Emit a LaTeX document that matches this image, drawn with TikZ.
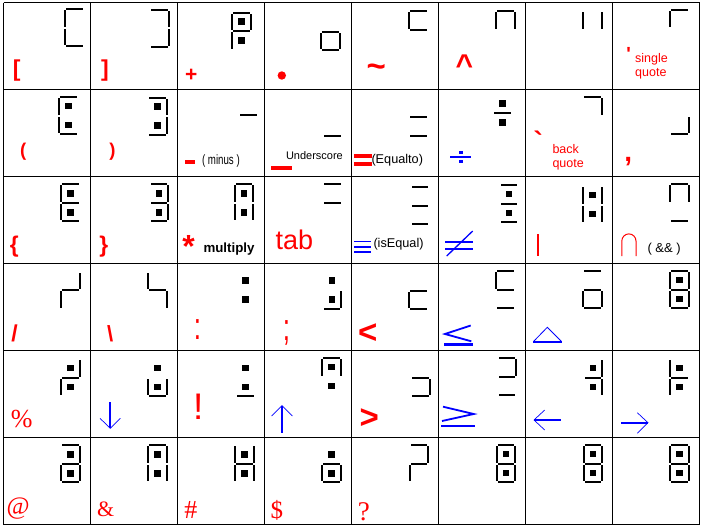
\documentclass[tikz,border=0pt]{standalone}
\usepackage{fontspec}
\setmainfont{Liberation Sans}
\newfontfamily\symfont{Liberation Sans}
\newfontfamily\serifsym{Liberation Serif}
\newcommand\myfs[1]{\fontsize{#1}{#1}\selectfont}
\pgfkeys{/seg/.is family, /seg/.cd,
  a/.code={\fill[black] (2,0) rectangle (18.5,2);},
  b/.code={\fill[black] (18.5,2) rectangle (20.5,18.5);},
  c/.code={\fill[black] (18.5,20.5) rectangle (20.5,37);},
  d/.code={\fill[black] (2,37) rectangle (18.5,39);},
  e/.code={\fill[black] (0,20.5) rectangle (2,37);},
  f/.code={\fill[black] (0,2) rectangle (2,18.5);},
  g/.code={\fill[black] (2,18.5) rectangle (18.5,20.5);},
  p/.code={\fill[black] (7,6.75) rectangle (13.5,13.25);},
  q/.code={\fill[black] (7,25.75) rectangle (13.5,32.25);},
  all/.code={\pgfkeys{/seg/.cd,a,b,c,d,e,f,g,p,q}}
}
\newcommand\glyph[3]{\begin{scope}[shift={(#1,#2)}]\pgfkeys{/seg/.cd,#3}\end{scope}}
\begin{document}
\begin{tikzpicture}[x=1pt,y=-1pt,
  sym/.style={inner sep=0pt, outer sep=0pt, anchor=center, text=red},
  lbl/.style={inner sep=0pt, outer sep=0pt, anchor=west},
  gridl/.style={line width=1.8pt, black},
  thinhead/.style={line width=0.7pt, blue}]
\useasboundingbox (0,0) rectangle (706,530);
\fill[white] (0,0) rectangle (706,530);
% grid
\foreach \i in {0,...,8} {\draw[gridl] (3.5+87*\i,2.5) -- (3.5+87*\i,524.5);}
\foreach \j in {0,...,6} {\draw[gridl] (3.5,2.5+87*\j) -- (699.5,2.5+87*\j);}
% ---- segment glyphs ----
% row 1
\glyph{64.3}{8}{a,f,e,d}
\glyph{149.2}{8.5}{a,b,c,d}
\glyph{231}{11.5}{a,f,b,g,e,p,q}
\glyph{320.3}{12}{g,e,c,d}
\glyph{408.3}{10}{a,f,g}
\glyph{495.3}{10}{a,f,b}
\glyph{582}{10}{f,b}
\glyph{669}{8.5}{a,f}
% row 2
\glyph{58.3}{96}{a,f,e,d,p,q}
\glyph{147.2}{96.5}{a,b,c,d,p,q}
\glyph{238}{95.8}{g}
\glyph{322}{97.7}{d}
\glyph{408}{97.6}{g,d}
\glyph{492}{93.5}{g,p,q}
\glyph{582}{96}{a,b}
\glyph{669.2}{96}{c,d}
% row 3
\glyph{60}{183.3}{a,f,g,e,d,p,q}
\glyph{148.7}{183.3}{a,b,g,c,d,p,q}
\glyph{233.7}{183.3}{a,f,b,e,c,p,q}
\glyph{322}{183.3}{a,g}
\glyph{409.5}{186.3}{a,g,d}
\glyph{498.5}{184}{a,g,d,p,q}
\glyph{582}{185}{f,b,e,c,p,q}
\glyph{669}{183.3}{a,f,b,d}
% row 4
\glyph{60}{270.5}{b,g,e}
\glyph{147}{270.5}{f,g,c}
\glyph{235}{270.5}{p,q}
\glyph{321.5}{270.5}{p,q,c,d}
\glyph{408.3}{271}{g,e,d}
\glyph{495.3}{270}{a,f,g,d}
\glyph{582.3}{270}{a,g,e,c,d}
\glyph{669}{270}{all}
% row 5
\glyph{60}{358}{b,g,e,p,q}
\glyph{147.3}{358}{p,q,e,c,d}
\glyph{235}{358}{p,q,d}
\glyph{321}{357}{a,f,b,p,q}
\glyph{410}{358}{g,c,d}
\glyph{496.5}{357}{a,b,g,d}
\glyph{582.5}{358}{b,g,c,p,q}
\glyph{669}{358}{f,g,e,p,q}
% row 6
\glyph{60.3}{444.3}{a,b,g,e,c,d,p,q}
\glyph{147.3}{444.3}{a,f,b,e,c,p,q}
\glyph{234}{444.3}{f,b,g,e,c,p,q}
\glyph{321}{444.3}{p,q,g,e,c,d}
\glyph{408.5}{444}{a,b,g,e}
\glyph{495.5}{444}{all}
\glyph{582.5}{444}{all}
\glyph{669}{444}{all}
% ---- row 1 symbols ----
\node[sym, font=\symfont\bfseries\myfs{23}] (lbrack) at (16.7,70.8) {[};
\node[sym, font=\symfont\bfseries\myfs{23}] (rbrack) at (105,70.8) {]};
\node[sym, font=\symfont\bfseries\myfs{21}] (plus) at (191.2,75.8) {+};
\fill[red] (281.8,75.5) circle (4.2);
\node[sym, font=\symfont\bfseries\myfs{33}] (tilde) at (376.3,70.8) {\textasciitilde};
\node[sym, font=\symfont\bfseries\myfs{30}] (caret) at (464.5,65) {\textasciicircum};
\node[sym, font=\symfont\bfseries\myfs{19}] (squote) at (628.5,54.2) {'};
\node[lbl, text=red, font=\myfs{12.5}] (single) at (635.2,59.2) {single};
\node[lbl, text=red, font=\myfs{12.5}] (quoteA) at (635.2,74.2) {quote};
% ---- row 2 ----
\node[sym, font=\symfont\bfseries\myfs{18.5}] (lparen) at (23.3,152) {(};
\node[sym, font=\symfont\bfseries\myfs{18.5}] (rparen) at (112.5,152) {)};
\fill[red] (185,160.3) rectangle (195,164.3);
\node[lbl, font=\myfs{13.5}] (minus) at (202,160.8) {\scalebox{0.72}[1]{( minus )}};
\fill[red] (271,165.7) rectangle (291.7,169.7);
\node[lbl, font=\myfs{11}] (under) at (286,155.2) {Underscore};
\fill[red] (354,154.3) rectangle (371.7,157.7);
\fill[red] (354,162.3) rectangle (371.7,165.7);
\node[lbl, font=\myfs{12.7}] (equalto) at (371.5,160) {(Equalto)};
\fill[blue] (450,155.7) rectangle (471,157.7);
\fill[blue] (459,151) rectangle (463,153.7);
\fill[blue] (459,160) rectangle (463,163);
\node[sym, font=\symfont\bfseries\myfs{28}] (bquote) at (538.3,141.2) {`};
\node[lbl, text=red, font=\myfs{12.5}] (back) at (552.5,148.7) {back};
\node[lbl, text=red, font=\myfs{12.5}] (quoteB) at (552.5,164.7) {quote};
\node[sym, font=\symfont\bfseries\myfs{28}] (comma) at (628.3,161.2) {,};
% ---- row 3 ----
\node[sym, font=\symfont\bfseries\myfs{22.7}] (lbrace) at (14.2,246.7) {\{};
\node[sym, font=\symfont\bfseries\myfs{22.7}] (rbrace) at (103.8,246.7) {\}};
\node[sym, font=\symfont\bfseries\myfs{32}] (star) at (188.7,246.5) {*};
\node[lbl, font=\bfseries\myfs{13.3}] (mult) at (203.5,248.8) {multiply};
\node[lbl, text=red, font=\myfs{27}] (tab) at (275.5,240.2) {tab};
\fill[blue] (354,240.7) rectangle (370.7,242.3);
\fill[blue] (354,246) rectangle (370.7,247.7);
\fill[blue] (354,251.3) rectangle (370.7,253);
\node[lbl, font=\myfs{12.7}] (iseq) at (373.5,244.2) {(isEqual)};
\fill[blue] (445,241) rectangle (472.7,242.7);
\fill[blue] (445,248.3) rectangle (472.7,250);
\draw[blue, line width=1.3pt] (446.7,256) -- (472.7,231);
\fill[red] (537,234) rectangle (539,256);
\draw[red, line width=1pt] (621.8,256) -- (621.8,241) arc[start angle=180, end angle=360, radius=7.1] -- (636,256);
\node[lbl, font=\myfs{13}] (andand) at (647.5,248.8) {( \&\& )};
% ---- row 4 ----
\node[sym, font=\symfont\bfseries\myfs{23}] (slash) at (14.5,333.8) {/};
\node[sym, font=\symfont\bfseries\myfs{22}] (bslash) at (110.3,333.3) {\textbackslash};
\node[sym, font=\symfont\myfs{26}] (colon) at (197.5,330) {\scalebox{1}[1.45]{:}};
\node[sym, font=\symfont\myfs{26}] (semi) at (286.5,333) {\scalebox{1}[1.45]{;}};
\node[sym, font=\symfont\bfseries\myfs{33}] (less) at (367.8,333.3) {<};
\draw[blue, line width=1.8pt] (470.7,325.5) -- (445,334) -- (471.3,341.3);
\fill[blue] (444,343.3) rectangle (473,345.7);
\draw[blue, line width=0.8pt] (533.5,341.5) -- (547.3,327.3) -- (561.5,341.5);
\fill[blue] (533,340.7) rectangle (562,342.7);
% ---- row 5 ----
\node[sym, font=\serifsym\myfs{26}] (percent) at (21.7,419.2) {\%};
\fill[blue] (109.3,401.7) rectangle (111.1,428.3);
\draw[thinhead] (100,418.3) -- (110.2,428.3) -- (120.4,418.3);
\node[sym, font=\symfont\myfs{37}] (excl) at (198.3,406.5) {!};
\fill[blue] (281,405.7) rectangle (283,432.7);
\draw[thinhead] (271.7,416) -- (282,405.7) -- (292.3,416);
\node[sym, font=\symfont\bfseries\myfs{33}] (greater) at (369.2,418.3) {>};
\draw[blue, line width=1.8pt] (443,406.7) -- (473.7,414) -- (442,421);
\fill[blue] (441.3,425) rectangle (474.7,427);
\fill[blue] (534,419) rectangle (561.3,421);
\draw[thinhead] (544.7,410) -- (534,420) -- (544.7,430);
\fill[blue] (620.7,421.7) rectangle (648,423.7);
\draw[thinhead] (637.3,412.7) -- (648,422.7) -- (637.3,433.3);
% ---- row 6 ----
\node[sym, font=\serifsym\myfs{25}] (at) at (18.2,508.8) {@};
\node[sym, font=\serifsym\myfs{22}] (amp) at (105.8,509.7) {\&};
\node[sym, font=\serifsym\myfs{26}] (hash) at (190.8,510.3) {\#};
\node[sym, font=\serifsym\myfs{25}] (dollar) at (276.8,510.8) {\$};
\node[sym, font=\serifsym\myfs{27}] (quest) at (363.8,511.5) {?};
\end{tikzpicture}
\end{document}
